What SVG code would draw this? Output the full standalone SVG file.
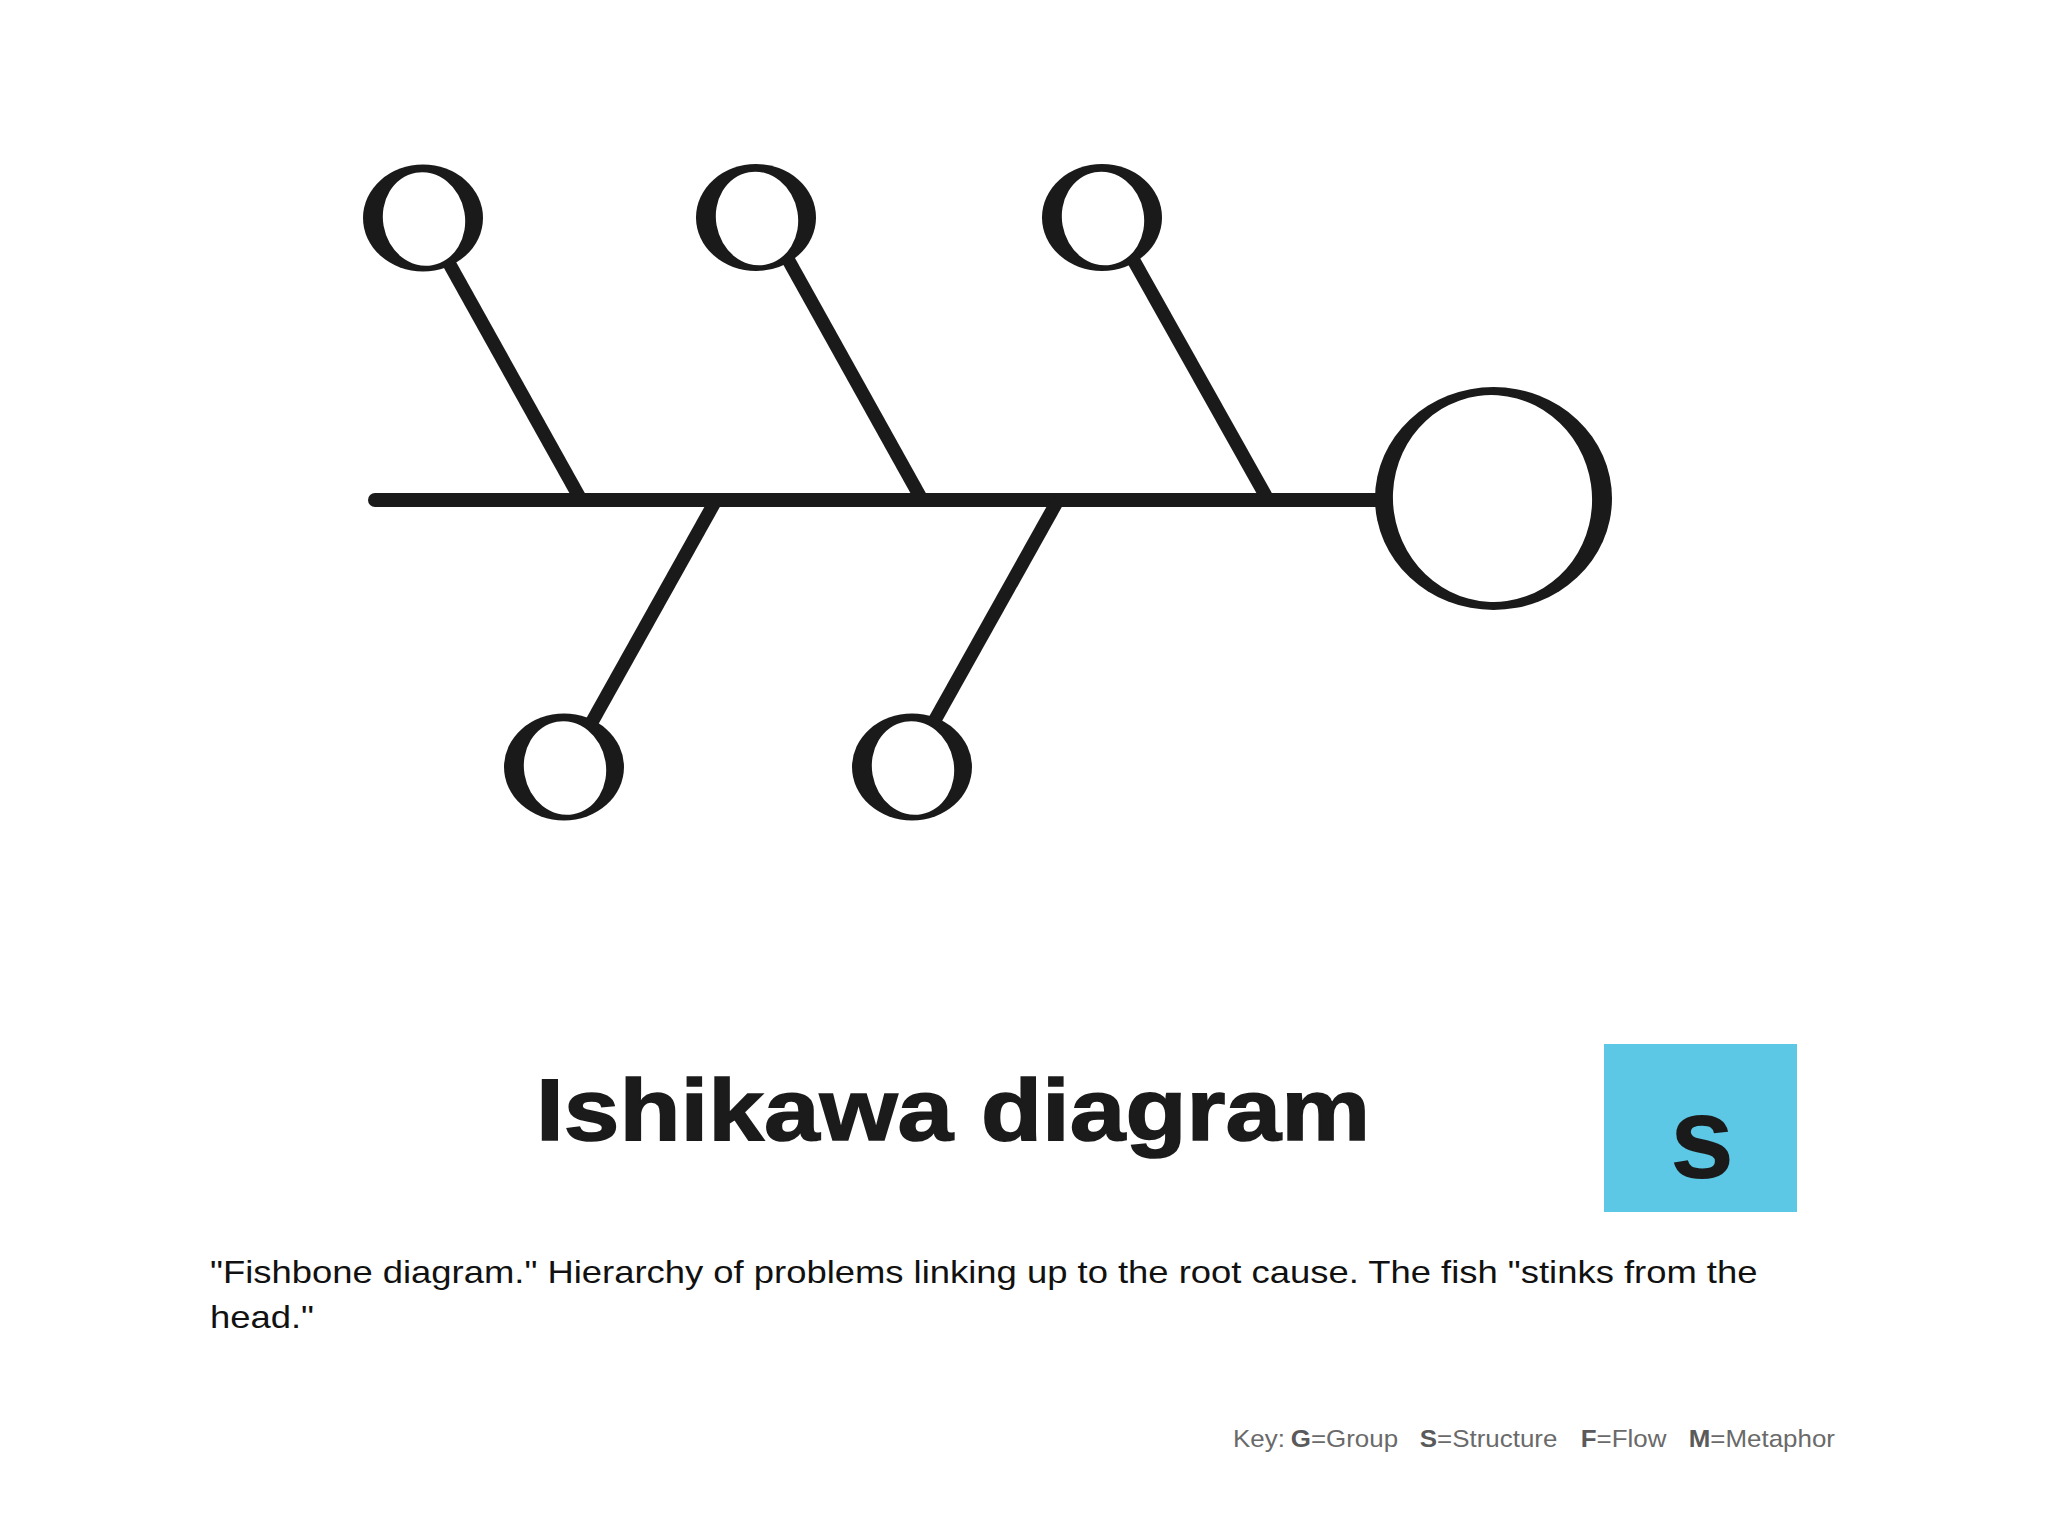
<svg xmlns="http://www.w3.org/2000/svg" xmlns:xlink="http://www.w3.org/1999/xlink" width="2048" height="1536" viewBox="0 0 2048 1536">
  <style>
    .bone { stroke: #1a1a1a; stroke-width: 13.5; fill: none; stroke-linecap: butt; }
    .spine { stroke: #1a1a1a; stroke-width: 14; fill: none; stroke-linecap: round; }
    .ink { fill: #1a1a1a; }
    .hole { fill: #ffffff; }
    .title { font-family: "Liberation Sans", Arial, sans-serif; font-weight: bold; font-size: 88px; fill: #1b1b1b; stroke: #1b1b1b; stroke-width: 1.6; }
    .desc { font-family: "Liberation Sans", Arial, sans-serif; font-size: 32px; fill: #111111; }
    .key { font-family: "Liberation Sans", Arial, sans-serif; font-size: 24px; fill: #6a6a6a; }
    .keyb { font-weight: bold; fill: #5a5a5a; }
    .badge { fill: #5dc8e5; }
    .badgetext { font-family: "Liberation Sans", Arial, sans-serif; font-weight: bold; font-size: 116px; fill: #1a1a1a; }
  </style>
  <defs>
    <g id="o-small">
      <ellipse class="ink" cx="0" cy="0" rx="60" ry="53.5"/>
      <ellipse class="hole" cx="1" cy="1" rx="41" ry="47" transform="rotate(-10 1 1)"/>
    </g>
  </defs>
  <rect x="0" y="0" width="2048" height="1536" fill="#ffffff"/>

  <g id="connectors">
    <line class="spine" x1="375" y1="500" x2="1380" y2="500"/>
    <line class="bone" x1="445" y1="256" x2="581" y2="500"/>
    <line class="bone" x1="785" y1="254" x2="922" y2="500"/>
    <line class="bone" x1="1130" y1="254" x2="1268" y2="500"/>
    <line class="bone" x1="716" y1="500" x2="588" y2="729"/>
    <line class="bone" x1="1058" y1="500" x2="931" y2="727"/>
  </g>

  <g id="cause-top-1"><use xlink:href="#o-small" href="#o-small" x="423" y="218"/></g>
  <g id="cause-top-2"><use xlink:href="#o-small" href="#o-small" x="756" y="217.5"/></g>
  <g id="cause-top-3"><use xlink:href="#o-small" href="#o-small" x="1102" y="217.5"/></g>
  <g id="cause-bottom-1"><use xlink:href="#o-small" href="#o-small" x="564" y="767"/></g>
  <g id="cause-bottom-2"><use xlink:href="#o-small" href="#o-small" x="912" y="767"/></g>

  <g id="head">
    <ellipse class="ink" cx="1493.5" cy="498.5" rx="118.5" ry="111.5"/>
    <ellipse class="hole" cx="1492.5" cy="498.5" rx="99.5" ry="103.5" transform="rotate(-8 1492.5 498.5)"/>
  </g>

  <g id="title">
    <text class="title" transform="translate(536 1140) scale(1.137 1)" x="0" y="0">Ishikawa diagram</text>
  </g>

  <g id="badge">
    <rect class="badge" x="1604" y="1044" width="193" height="168"/>
    <text class="badgetext" x="1702" y="1178" text-anchor="middle">s</text>
  </g>

  <g id="description">
    <text class="desc" transform="translate(210 1283) scale(1.138 1)" x="0" y="0">"Fishbone diagram." Hierarchy of problems linking up to the root cause. The fish "stinks from the</text>
    <text class="desc" transform="translate(210 1328) scale(1.138 1)" x="0" y="0">head."</text>
  </g>

  <g id="key">
    <text class="key" transform="translate(1233 1447) scale(1.08 1)" y="0"><tspan x="0">Key:</tspan><tspan x="53.5" class="keyb">G</tspan><tspan>=Group</tspan><tspan x="173" class="keyb">S</tspan><tspan>=Structure</tspan><tspan x="322" class="keyb">F</tspan><tspan>=Flow</tspan><tspan x="422" class="keyb">M</tspan><tspan>=Metaphor</tspan></text>
  </g>
</svg>
